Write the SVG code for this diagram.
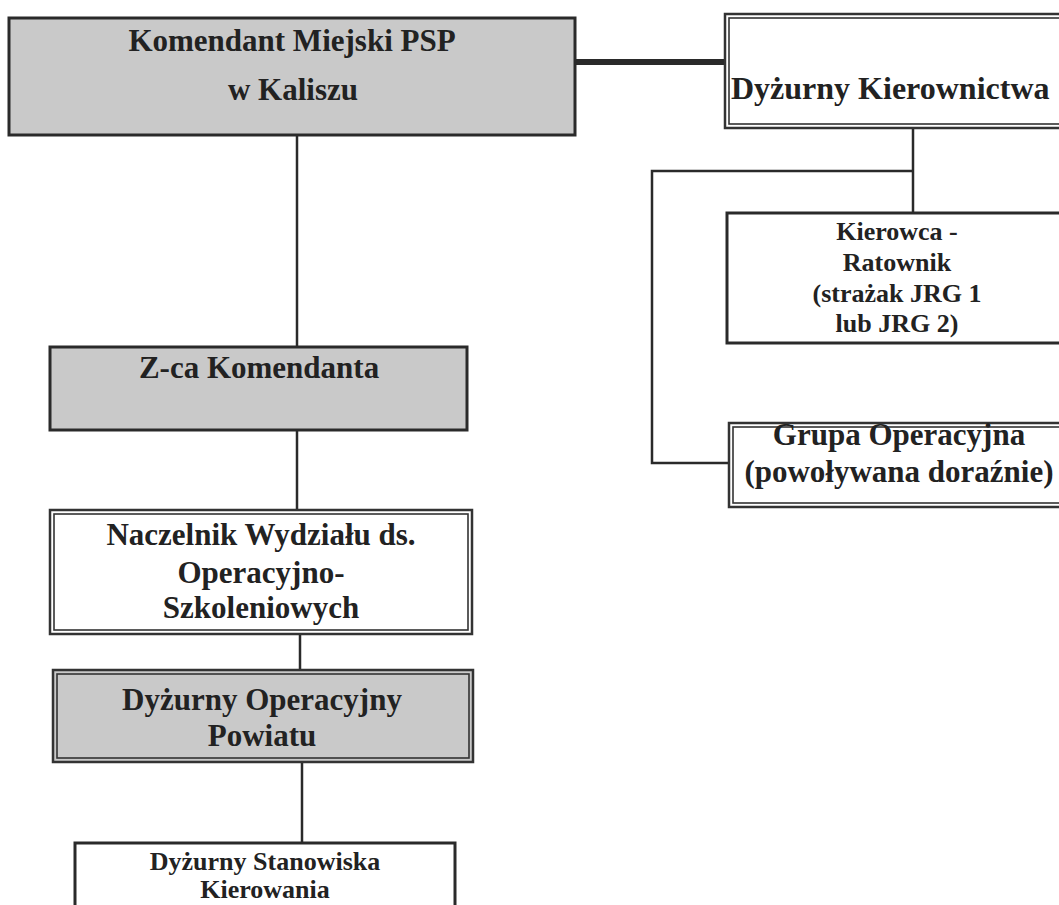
<svg xmlns="http://www.w3.org/2000/svg" width="1059" height="905" viewBox="0 0 1059 905">
<style>
text{font-family:"Liberation Serif","Times New Roman",serif;font-weight:bold;fill:#222;text-anchor:middle}
.t31{font-size:31px}
.t26{font-size:26px}
.gray{fill:#c9c9c9}
.white{fill:#fff}
.single{stroke:#2a2a2a;stroke-width:3}
.thin{fill:none;stroke:#333;stroke-width:1.6}
.outer{stroke:#333;stroke-width:2.5}
.conn{fill:none;stroke:#2a2a2a;stroke-width:2.5}
</style>
<rect width="1059" height="905" fill="#fff"/>
<g id="connectors">
<line x1="575" y1="62" x2="726" y2="62" stroke="#2a2a2a" stroke-width="6"/>
<line class="conn" x1="297" y1="135" x2="297" y2="347"/>
<line class="conn" x1="297" y1="430" x2="297" y2="510"/>
<line class="conn" x1="300" y1="634" x2="300" y2="670"/>
<line class="conn" x1="302" y1="762" x2="302" y2="843"/>
<polyline class="conn" points="913,128 913,213"/>
<polyline class="conn" points="913,171 652,171 652,463 729,463"/>
</g>
<g id="komendant">
<rect class="gray single" x="9" y="18" width="566" height="117"/>
<text class="t31" x="292" y="51">Komendant Miejski PSP</text>
<text class="t31" x="293" y="100">w Kaliszu</text>
</g>
<g id="dyzurny-kierownictwa">
<rect class="white outer" x="725" y="14" width="350" height="114"/>
<rect class="thin" x="729" y="18" width="350" height="106"/>
<text class="t31" x="731" y="99" style="text-anchor:start;font-size:32px">Dyżurny Kierownictwa</text>
</g>
<g id="kierowca">
<rect class="white single" x="727" y="213" width="350" height="130"/>
<text class="t26" x="897" y="240">Kierowca -</text>
<text class="t26" x="897" y="271">Ratownik</text>
<text class="t26" x="897" y="302">(strażak JRG 1</text>
<text class="t26" x="897" y="332">lub JRG 2)</text>
</g>
<g id="grupa">
<rect class="white outer" x="729" y="423" width="350" height="84"/>
<rect class="thin" x="733" y="427" width="350" height="76"/>
<text class="t31" x="899" y="445">Grupa Operacyjna</text>
<text class="t31" x="899" y="482">(powoływana doraźnie)</text>
</g>
<g id="zca">
<rect class="gray single" x="50" y="347" width="417" height="83"/>
<text class="t31" x="259" y="378">Z-ca Komendanta</text>
</g>
<g id="naczelnik">
<rect class="white outer" x="50" y="510" width="422" height="124"/>
<rect class="thin" x="54" y="514" width="414" height="116"/>
<text class="t31" x="261" y="545">Naczelnik Wydziału ds.</text>
<text class="t31" x="261" y="583">Operacyjno-</text>
<text class="t31" x="261" y="618">Szkoleniowych</text>
</g>
<g id="dyzurny-operacyjny">
<rect class="gray outer" x="53" y="670" width="420" height="92"/>
<rect class="thin" x="57" y="674" width="412" height="84"/>
<text class="t31" x="262" y="710">Dyżurny Operacyjny</text>
<text class="t31" x="262" y="746">Powiatu</text>
</g>
<g id="dyzurny-stanowiska">
<rect class="white single" x="75" y="843" width="380" height="80"/>
<text class="t26" x="265" y="870">Dyżurny Stanowiska</text>
<text class="t26" x="265" y="898">Kierowania</text>
</g>
</svg>
